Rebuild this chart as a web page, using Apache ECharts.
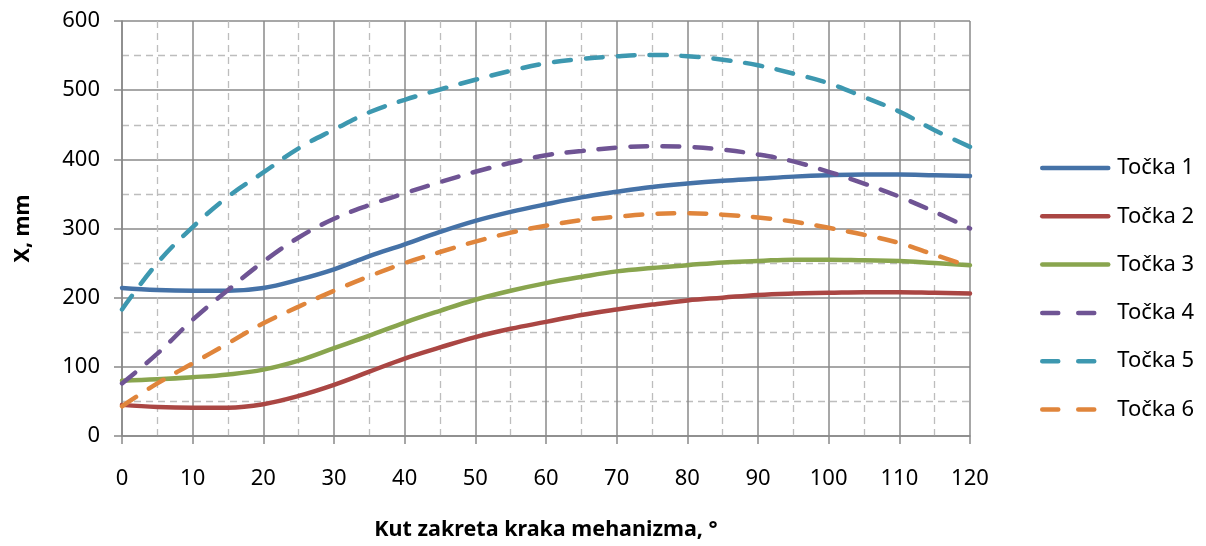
<!DOCTYPE html>
<html>
<head>
    <meta charset="utf-8">
    <title>Kut zakreta kraka mehanizma</title>
    <script src="https://cdn.jsdelivr.net/npm/echarts@6/dist/echarts.min.js"></script>
    <style>
        html, body { margin: 0; padding: 0; background: #fff; }
        #chart { width: 1206px; height: 546px; }
    </style>
</head>
<body>
<div id="chart"></div>
<script>
    // kut zakreta (stupnjevi)
    var angles = [0, 5, 10, 15, 20, 25, 30, 35, 40, 45, 50, 55, 60, 65, 70, 75, 80, 85, 90, 95, 100, 105, 110, 115, 120];
    var tocka1 = [214, 211, 210, 210, 214, 226, 241, 260, 277, 295, 311, 324, 335, 345, 353, 360, 365, 369, 372, 375, 377, 378, 378, 377, 376];
    var tocka2 = [45, 42, 41, 41, 46, 58, 74, 93, 112, 128, 143, 155, 165, 175, 183, 190, 196, 200, 204, 206, 207, 208, 208, 207, 206];
    var tocka3 = [80, 82, 85, 89, 96, 109, 127, 145, 164, 181, 197, 210, 221, 230, 238, 243, 247, 251, 253, 255, 255, 254, 253, 250, 247];
    var tocka4 = [76, 119, 168, 211, 252, 287, 314, 334, 351, 367, 382, 395, 406, 412, 417, 419, 418, 414, 407, 397, 382, 365, 346, 324, 300];
    var tocka5 = [183, 250, 302, 346, 381, 416, 443, 468, 486, 501, 515, 528, 539, 545, 549, 551, 549, 544, 536, 524, 510, 490, 469, 442, 418];
    var tocka6 = [43, 76, 105, 134, 163, 187, 210, 231, 250, 266, 281, 294, 304, 312, 317, 321, 322, 320, 316, 310, 301, 291, 279, 262, 245];
    var seriesNames = ['Točka 1', 'Točka 2', 'Točka 3', 'Točka 4', 'Točka 5', 'Točka 6'];
    var seriesData = [tocka1, tocka2, tocka3, tocka4, tocka5, tocka6];
    var colors = ['#4572A7', '#AA4643', '#89A54E', '#6F5494', '#3D98B0', '#E0853B'];
    var dashed = [false, false, false, true, true, true];

    var series = [];
    var legendData = [];
    for (var i = 0; i < seriesNames.length; i++) {
        var pts = [];
        for (var j = 0; j < angles.length; j++) {
            pts.push([angles[j], seriesData[i][j]]);
        }
        series.push({
            name: seriesNames[i],
            type: 'line',
            smooth: 0.4,
            showSymbol: false,
            symbol: 'none',
            color: colors[i],
            lineStyle: {
                width: 4.5,
                color: colors[i],
                cap: 'round',
                type: dashed[i] ? [17, 15] : 'solid'
            },
            data: pts
        });
        legendData.push({
            name: seriesNames[i],
            lineStyle: {type: dashed[i] ? [16, 20] : 'solid'}
        });
    }

    var font = 'Noto Sans';
    var option = {
        backgroundColor: '#fff',
        animation: false,
        grid: {left: 122, right: 236, top: 21, bottom: 110},
        legend: {
            orient: 'vertical',
            left: 1035,
            top: 152,
            itemWidth: 66,
            itemHeight: 22,
            itemGap: 26.3,
            itemStyle: {opacity: 0},
            lineStyle: {width: 4.5, cap: 'round'},
            textStyle: {fontFamily: font, fontSize: 22, color: '#000', padding: [0, 0, 0, 4]},
            data: legendData
        },
        xAxis: {
            type: 'value',
            min: 0, max: 120, interval: 10,
            name: 'Kut zakreta kraka mehanizma, °',
            nameLocation: 'middle',
            nameGap: 83,
            nameTextStyle: {fontFamily: font, fontSize: 21.5, fontWeight: 'bold', color: '#000'},
            axisLine: {show: true, lineStyle: {color: '#898989', width: 1.5}},
            axisTick: {show: true, length: 8, lineStyle: {color: '#898989', width: 1.5}},
            axisLabel: {fontFamily: font, fontSize: 22, color: '#000', margin: 32},
            splitLine: {show: true, lineStyle: {color: '#8a8a8a', width: 1.5}},
            minorTick: {show: false, splitNumber: 2},
            minorSplitLine: {show: true, lineStyle: {color: '#bdbdbd', width: 1.3, type: [7, 5]}}
        },
        yAxis: {
            type: 'value',
            min: 0, max: 600, interval: 100,
            name: 'X, mm',
            nameLocation: 'middle',
            nameGap: 88,
            nameRotate: 90,
            nameTextStyle: {fontFamily: font, fontSize: 21.5, fontWeight: 'bold', color: '#000'},
            axisLine: {show: true, lineStyle: {color: '#898989', width: 1.5}},
            axisTick: {show: true, length: 8, lineStyle: {color: '#898989', width: 1.5}},
            axisLabel: {fontFamily: font, fontSize: 22, color: '#000', margin: 22},
            splitLine: {show: true, lineStyle: {color: '#8a8a8a', width: 1.5}},
            minorTick: {show: false, splitNumber: 2},
            minorSplitLine: {show: true, lineStyle: {color: '#bdbdbd', width: 1.3, type: [7, 5]}}
        },
        series: series
    };

    var chart = echarts.init(document.getElementById('chart'));
    chart.setOption(option);
</script>
</body>
</html>
